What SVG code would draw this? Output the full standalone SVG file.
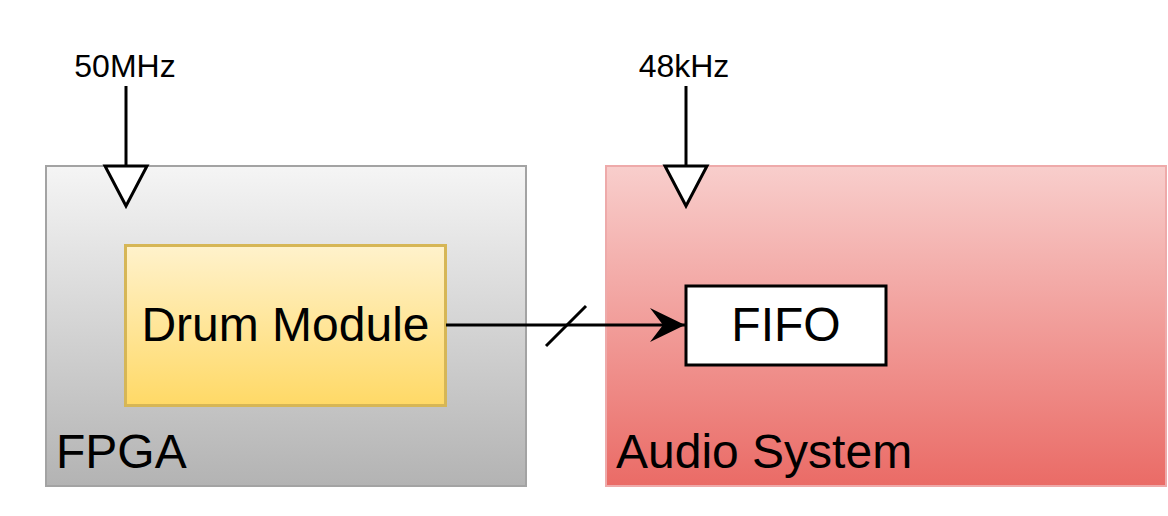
<svg xmlns="http://www.w3.org/2000/svg" width="1168" height="516" viewBox="0 0 1168 516">
<defs>
<linearGradient id="gGray" x1="0" y1="0" x2="0" y2="1"><stop offset="0" stop-color="#f5f5f5"/><stop offset="1" stop-color="#b3b3b3"/></linearGradient>
<linearGradient id="gRed" x1="0" y1="0" x2="0" y2="1"><stop offset="0" stop-color="#f8cecc"/><stop offset="1" stop-color="#ea6b66"/></linearGradient>
<linearGradient id="gYel" x1="0" y1="0" x2="0" y2="1"><stop offset="0" stop-color="#fff2cc"/><stop offset="1" stop-color="#ffd966"/></linearGradient>
<marker id="arr" viewBox="0 0 36 36" refX="35" refY="18" markerWidth="36" markerHeight="36" markerUnits="userSpaceOnUse" orient="auto">
<path d="M35 18 L0 1 L13 18 L0 35 Z" fill="#000"/>
</marker>
</defs>
<style>
text{font-family:"Liberation Sans",Arial,sans-serif;fill:#000}
.big{font-size:48px}
.small{font-size:32px}
.clk{fill:#fff;stroke:#000;stroke-width:3;stroke-linejoin:miter}
.line{stroke:#000;stroke-width:3;fill:none}
</style>
<g id="fpga">
<rect x="46" y="166" width="480" height="320" fill="url(#gGray)" stroke="#a3a3a3" stroke-width="2"/>
<text class="big" x="56" y="468">FPGA</text>
</g>
<g id="audio">
<rect x="606" y="166" width="560" height="320" fill="url(#gRed)" stroke="#eeaaaa" stroke-width="2"/>
<text class="big" x="616" y="468">Audio System</text>
</g>
<g id="drum">
<rect x="125.5" y="245.5" width="320" height="160" fill="url(#gYel)" stroke="#d6b656" stroke-width="3"/>
<text class="big" x="285.5" y="341" text-anchor="middle">Drum Module</text>
</g>
<g id="fifo">
<rect x="686" y="286" width="200" height="79" fill="#fff" stroke="#000" stroke-width="3"/>
<text class="big" x="786" y="341" text-anchor="middle">FIFO</text>
</g>
<g id="clk50">
<text class="small" x="125" y="77" text-anchor="middle">50MHz</text>
</g>
<g id="clk48">
<text class="small" x="684" y="77" text-anchor="middle">48kHz</text>
</g>
<g id="connectors">
<line class="line" x1="126" y1="86" x2="126" y2="166"/>
<path class="clk" d="M105 166 L147 166 L126 206 Z"/>
<line class="line" x1="686" y1="86" x2="686" y2="166"/>
<path class="clk" d="M665 166 L707 166 L686 206 Z"/>
<line class="line" x1="446" y1="325" x2="685" y2="325" marker-end="url(#arr)"/>
<line class="line" x1="546" y1="346" x2="586" y2="306"/>
</g>
</svg>
